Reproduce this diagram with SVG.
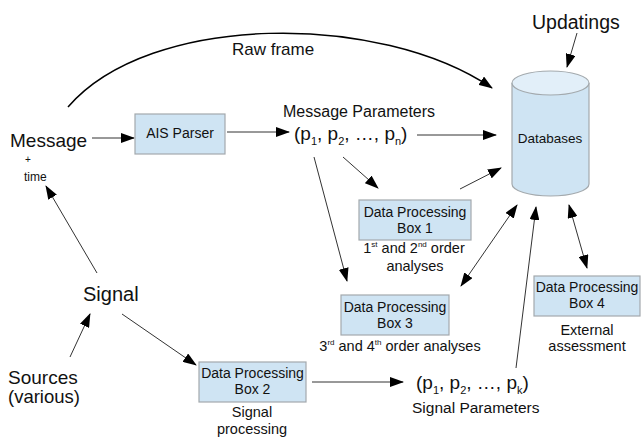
<svg xmlns="http://www.w3.org/2000/svg" width="642" height="441" viewBox="0 0 642 441">
<defs>
<marker id="ah" markerUnits="userSpaceOnUse" markerWidth="14" markerHeight="10" viewBox="0 0 14 10" refX="13" refY="5" orient="auto-start-reverse">
<path d="M0,0 L14,5 L0,10 z" fill="#000"/>
</marker>
<style>
text{font-family:"Liberation Sans",Arial,sans-serif;fill:#111}
.box{fill:#cfe4f3;stroke:#a3a9ad;stroke-width:1.2}
.bt{font-size:14px;text-anchor:middle}
.cap{font-size:14.5px;text-anchor:middle}
.big{font-size:19px}
.mid{font-size:16px}
.ln{stroke:#333;stroke-width:1;fill:none;marker-end:url(#ah)}
.dbl{marker-start:url(#ah)}
.sub{font-size:11px}
.sup{font-size:8px}
</style>
</defs>
<rect width="642" height="441" fill="#fff"/>

<g id="connectors">
<path class="ln" d="M68,107 C150,12 380,12 492,88" style="stroke:#000;stroke-width:1.5"/>
<line class="ln" x1="92" y1="138" x2="134" y2="138"/>
<line class="ln" x1="227" y1="132" x2="289" y2="132"/>
<line class="ln" x1="417" y1="135" x2="496" y2="135"/>
<line class="ln" x1="577" y1="33" x2="567" y2="67"/>
<line class="ln" x1="343" y1="157" x2="378" y2="188"/>
<line class="ln" x1="314" y1="157" x2="347" y2="281"/>
<line class="ln" x1="460" y1="189" x2="501" y2="168"/>
<line class="ln dbl" x1="461" y1="286" x2="517" y2="205"/>
<line class="ln" x1="516" y1="368" x2="536" y2="207"/>
<line class="ln dbl" x1="569" y1="205" x2="587" y2="268"/>
<line class="ln" x1="97" y1="273" x2="46" y2="186"/>
<line class="ln" x1="70" y1="357" x2="90" y2="314"/>
<line class="ln" x1="122" y1="314" x2="196" y2="365"/>
<line class="ln" x1="312" y1="382" x2="403" y2="382"/>
</g>

<g id="message">
<text x="10" y="147" class="big">Message</text>
<text x="25" y="163" style="font-size:10px">+</text>
<text x="24" y="181" style="font-size:12px">time</text>
</g>

<g id="rawframe"><text x="232" y="55" style="font-size:17px">Raw frame</text></g>

<g id="ais">
<rect class="box" x="135" y="114" width="90" height="40"/>
<text x="180" y="138" class="bt">AIS Parser</text>
</g>

<g id="msgparams">
<text x="283" y="117" class="mid">Message Parameters</text>
<text x="294" y="140" style="font-size:19px">(p<tspan class="sub" dy="5">1</tspan><tspan dy="-5">, p</tspan><tspan class="sub" dy="5">2</tspan><tspan dy="-5">, …, p</tspan><tspan class="sub" dy="5">n</tspan><tspan dy="-5">)</tspan></text>
</g>

<g id="updatings"><text x="532" y="29" style="font-size:19.5px">Updatings</text></g>

<g id="databases">
<path d="M512,83 L512,184 A38.5,12 0 0 0 589,184 L589,83" fill="#cfe4f3" stroke="#a3a9ad" stroke-width="1.2"/>
<ellipse cx="550.5" cy="83" rx="38.5" ry="12" fill="#e2eff9" stroke="#a3a9ad" stroke-width="1.2"/>
<text x="550" y="143" class="bt" style="font-size:13.5px">Databases</text>
</g>

<g id="box1">
<rect class="box" x="359" y="200" width="112" height="40"/>
<text x="415" y="217" class="bt">Data Processing</text>
<text x="415" y="233" class="bt">Box 1</text>
<text x="414" y="253" class="cap">1<tspan class="sup" dy="-6">st</tspan><tspan dy="6"> and 2</tspan><tspan class="sup" dy="-6">nd</tspan><tspan dy="6"> order</tspan></text>
<text x="415" y="271" class="cap">analyses</text>
</g>

<g id="box3">
<rect class="box" x="341" y="295" width="108" height="40"/>
<text x="395" y="312" class="bt">Data Processing</text>
<text x="395" y="328" class="bt">Box 3</text>
<text x="400" y="351" class="cap">3<tspan class="sup" dy="-6">rd</tspan><tspan dy="6"> and 4</tspan><tspan class="sup" dy="-6">th</tspan><tspan dy="6"> order analyses</tspan></text>
</g>

<g id="box4">
<rect class="box" x="534" y="276" width="106" height="40"/>
<text x="587" y="292" class="bt">Data Processing</text>
<text x="587" y="308" class="bt">Box 4</text>
<text x="587" y="335" class="cap">External</text>
<text x="587" y="351" class="cap">assessment</text>
</g>

<g id="signal"><text x="83" y="301" style="font-size:20px">Signal</text></g>

<g id="sources">
<text x="8" y="384" style="font-size:19px">Sources</text>
<text x="8" y="403" style="font-size:18.5px">(various)</text>
</g>

<g id="box2">
<rect class="box" x="199" y="362" width="107" height="40"/>
<text x="252.5" y="378" class="bt">Data Processing</text>
<text x="252.5" y="394" class="bt">Box 2</text>
<text x="252" y="417" class="cap">Signal</text>
<text x="252" y="434" class="cap">processing</text>
</g>

<g id="sigparams">
<text x="416" y="389" style="font-size:19px">(p<tspan class="sub" dy="5">1</tspan><tspan dy="-5">, p</tspan><tspan class="sub" dy="5">2</tspan><tspan dy="-5">, …, p</tspan><tspan class="sub" dy="5">k</tspan><tspan dy="-5">)</tspan></text>
<text x="412" y="413" style="font-size:15.5px">Signal Parameters</text>
</g>
</svg>
